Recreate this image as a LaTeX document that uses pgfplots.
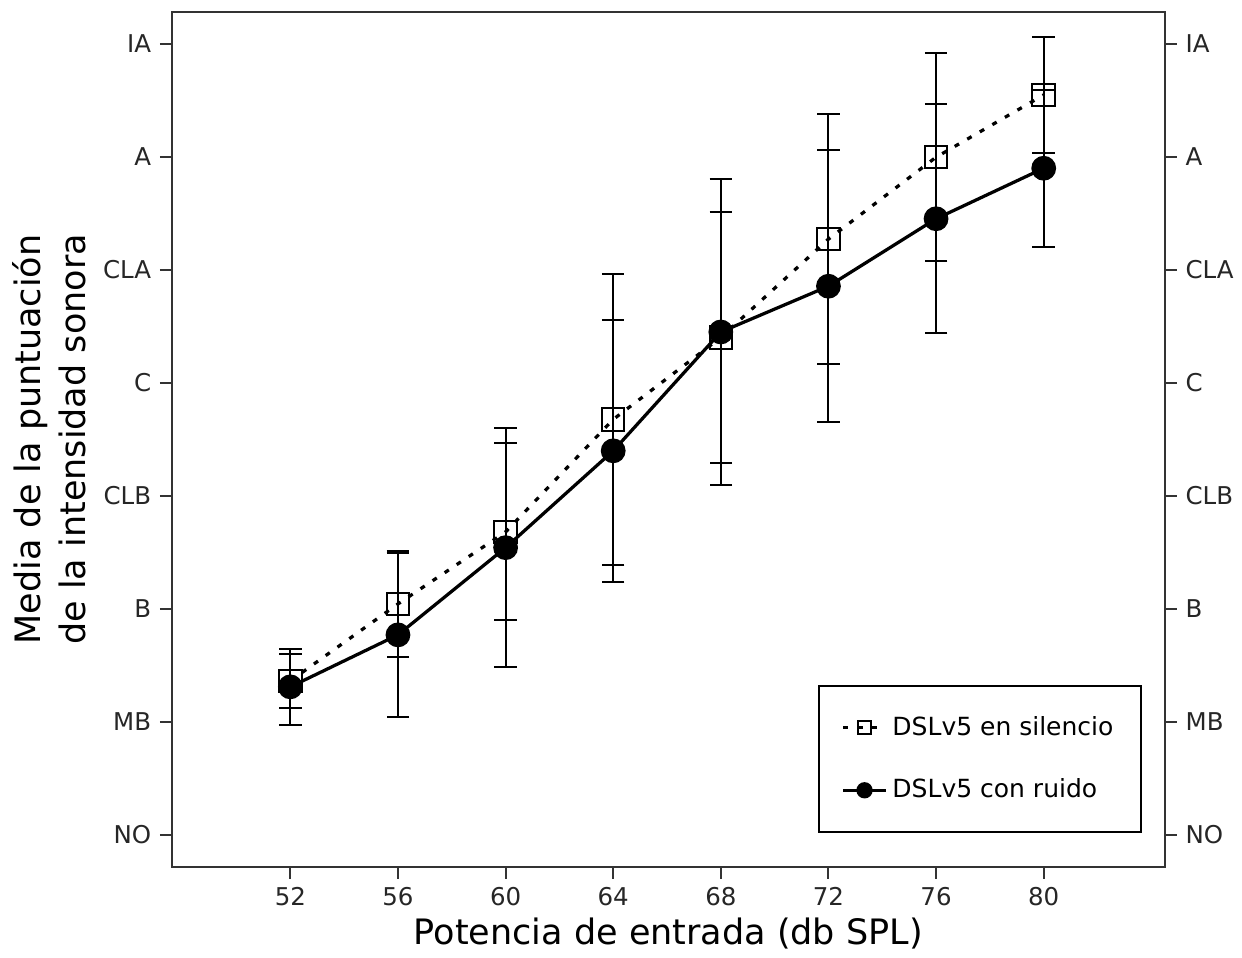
\documentclass[border=0pt]{standalone}
\usepackage{fontspec}
\setmainfont{DejaVu Sans}
\usepackage{pgfplots}
\pgfplotsset{compat=1.18}
\begin{document}
\begin{tikzpicture}
\pgfplotsset{
  common/.style={
    scale only axis, width=397.2pt, height=342pt,
    xmin=47.6, xmax=84.5, ymin=-0.283, ymax=7.283,
    ytick={0,...,7},
    yticklabels={NO,MB,B,CLB,C,CLA,A,IA},
    tick align=outside, major tick length=4.8pt,
    tick style={line width=0.8pt, black!80},
    axis line style={line width=0.8pt, black!80},
    /pgf/number format/assume math mode=true,
    tick label style={font=\fontsize{9.8}{11}\selectfont, text=black!85},
  },
}
\begin{axis}[common, name=main,
  xtick={52,56,...,80}, xtick pos=bottom, ytick pos=left,
  xlabel={Potencia de entrada (db SPL)},
  ylabel={Media de la puntuación\\de la intensidad sonora},
  xlabel style={font=\fontsize{14}{17}\selectfont, yshift=2pt},
  ylabel style={font=\fontsize{14}{18}\selectfont, align=center},
  legend style={at={(0.977,0.040)}, anchor=south east,
    draw=black, line width=0.8pt, font=\fontsize{10}{12}\selectfont,
    row sep=12pt, inner xsep=9pt, inner ysep=10pt},
  legend cell align=left,
  legend image post style={mark size=2.6pt},
  error bars/error bar style={solid, line width=0.8pt, black},
  error bars/error mark options={black, line width=0.8pt, mark size=4.5pt, rotate=90},
]
\addplot[black, line width=1.3pt, dash pattern=on 2pt off 3.8pt,
  mark=square, mark size=4.5pt, mark options={solid, line width=0.8pt},
  error bars/.cd, y dir=both, y explicit]
coordinates {
  (52,1.363) +- (0,0.239)
  (56,2.044) +- (0,0.472)
  (60,2.681) +- (0,0.783)
  (64,3.677) +- (0,1.288)
  (68,4.403) +- (0,1.113)
  (72,5.273) +- (0,1.105)
  (76,5.998) +- (0,0.919)
  (80,6.549) +- (0,0.516)
};
\addlegendentry{DSLv5 en silencio}
\addplot[black, line width=1.3pt,
  mark=*, mark size=4.3pt, mark options={solid, fill=black},
  error bars/.cd, y dir=both, y explicit]
coordinates {
  (52,1.310) +- (0,0.336)
  (56,1.770) +- (0,0.726)
  (60,2.542) +- (0,1.058)
  (64,3.399) +- (0,1.158)
  (68,4.451) +- (0,1.353)
  (72,4.856) +- (0,1.204)
  (76,5.453) +- (0,1.013)
  (80,5.900) +- (0,0.693)
};
\addlegendentry{DSLv5 con ruido}
\end{axis}
\begin{axis}[common, axis x line=none, axis y line*=right]
\end{axis}
\path ([shift={(-68.8pt,-33.6pt)}]main.south west) rectangle ([shift={(30.8pt,4.8pt)}]main.north east);
\end{tikzpicture}
\end{document}
